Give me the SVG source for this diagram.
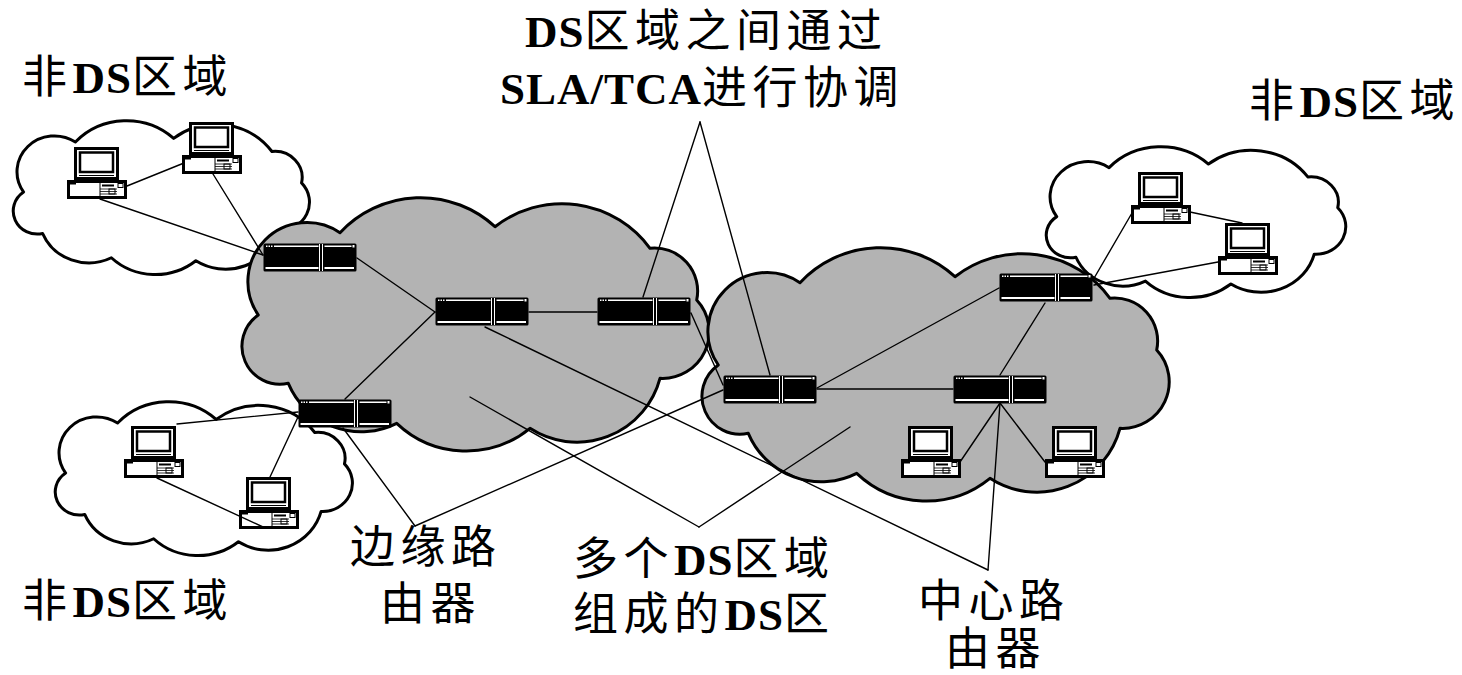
<svg xmlns="http://www.w3.org/2000/svg" xmlns:xlink="http://www.w3.org/1999/xlink" width="1462" height="675" viewBox="0 0 1462 675">
  <style>
    .cloud-gray { fill: #b3b3b3; }
    .cloud-white { fill: #ffffff; }
    .outline { stroke: #000; stroke-width: 3; vector-effect: non-scaling-stroke; stroke-linejoin: round; }
    .wire { stroke: #000; stroke-width: 1.4; fill: none; stroke-linecap: round; }
    .label { font-family: 'Liberation Serif', 'Noto Sans CJK SC', serif; font-size: 45px; letter-spacing: 5.5px; fill: #000; font-weight: normal; }
    .b { font-weight: bold; letter-spacing: 1px; }
  </style>
  <defs>
    <!-- generic cloud outline, 473 x 252 local box -->
    <path id="cloud" class="outline" d="M18.3,117 A59,59 0 0 1 100,34.7 A110,110 0 0 1 255,28.7 A109,109 0 0 1 410,50.3 A43,43 0 0 1 456.7,102 A46.6,46.6 0 0 1 420,180.3 A86,86 0 0 1 290,230.3 A101,101 0 0 1 156.7,225.3 A79,79 0 0 1 48.3,185.3 A38,38 0 0 1 18.3,117 Z"/>
    <!-- rack router, 94 x 29 -->
    <g id="router">
      <rect x="0.5" y="0.5" width="93" height="28" rx="1.5" fill="#000"/>
      <g fill="#fff">
        <rect x="3" y="2.5" width="1.5" height="1.5"/>
        <rect x="5.5" y="2.5" width="1.5" height="1.5"/>
        <rect x="8" y="2.5" width="1.5" height="1.5"/>
        <rect x="11" y="2.5" width="44.5" height="1.5"/>
        <rect x="2.5" y="24" width="53" height="2"/>
        <rect x="56" y="1" width="1" height="27"/>
        <rect x="59" y="1" width="1" height="27"/>
        <rect x="61.5" y="2.5" width="27" height="1.5"/>
        <rect x="89.5" y="2" width="2" height="2.5"/>
        <rect x="61.5" y="24" width="29.5" height="2"/>
      </g>
    </g>
    <!-- desktop computer, 60 x 52 -->
    <g id="pc">
      <rect x="8.5" y="1.5" width="42" height="30" fill="#fff" stroke="#000" stroke-width="3"/>
      <rect x="13" y="5.5" width="33" height="19.5" fill="#fff" stroke="#000" stroke-width="2.5"/>
      <line x1="12" y1="28.5" x2="47" y2="28.5" stroke="#000" stroke-width="1"/>
      <rect x="1.5" y="34.5" width="57" height="16" fill="#fff" stroke="#000" stroke-width="3"/>
      <rect x="3" y="36" width="6" height="1.5" fill="#000"/>
      <line x1="33" y1="36" x2="33" y2="49" stroke="#000" stroke-width="1"/>
      <rect x="35" y="37.5" width="12" height="2" fill="#000"/>
      <line x1="33" y1="42" x2="50" y2="42" stroke="#000" stroke-width="0.8"/>
      <line x1="33" y1="44.5" x2="50" y2="44.5" stroke="#000" stroke-width="0.8"/>
      <line x1="33" y1="47" x2="50" y2="47" stroke="#000" stroke-width="0.8"/>
      <rect x="42" y="42" width="6" height="5" fill="none" stroke="#000" stroke-width="1"/>
      <rect x="51" y="36.5" width="5" height="4" fill="none" stroke="#000" stroke-width="1"/>
    </g>
  </defs>

  <!-- non-DS domains -->
  <g id="cloud-nonds-top-left">
    <use xlink:href="#cloud" class="cloud-white" transform="translate(12,121) scale(0.634,0.607)"/>
  </g>
  <g id="cloud-nonds-bottom-left">
    <use xlink:href="#cloud" class="cloud-white" transform="translate(54,402) scale(0.636,0.607)"/>
  </g>
  <g id="cloud-nonds-right">
    <use xlink:href="#cloud" class="cloud-white" transform="translate(1045,147) scale(0.641,0.595)"/>
  </g>

  <!-- DS domains -->
  <g id="cloud-ds-1">
    <use xlink:href="#cloud" class="cloud-gray" transform="translate(240,198)"/>
  </g>
  <g id="cloud-ds-2">
    <use xlink:href="#cloud" class="cloud-gray" transform="translate(700,248)"/>
  </g>

  <!-- routers -->
  <g id="router-r1"><use xlink:href="#router" x="263" y="243"/></g>
  <g id="router-r2"><use xlink:href="#router" x="435" y="297"/></g>
  <g id="router-r3"><use xlink:href="#router" x="597" y="297"/></g>
  <g id="router-r4"><use xlink:href="#router" x="298" y="399"/></g>
  <g id="router-r5"><use xlink:href="#router" x="723" y="375"/></g>
  <g id="router-r6"><use xlink:href="#router" x="953" y="375"/></g>
  <g id="router-r7"><use xlink:href="#router" x="999" y="273"/></g>

  <!-- hosts -->
  <g id="pc-1"><use xlink:href="#pc" x="67" y="147"/></g>
  <g id="pc-2"><use xlink:href="#pc" x="182" y="122"/></g>
  <g id="pc-3"><use xlink:href="#pc" x="124" y="426"/></g>
  <g id="pc-4"><use xlink:href="#pc" x="239" y="477"/></g>
  <g id="pc-5"><use xlink:href="#pc" x="901" y="426"/></g>
  <g id="pc-6"><use xlink:href="#pc" x="1045" y="426"/></g>
  <g id="pc-7"><use xlink:href="#pc" x="1131" y="172"/></g>
  <g id="pc-8"><use xlink:href="#pc" x="1218" y="223"/></g>

  <!-- links and label pointers -->
  <g id="connectors" class="wire">
    <line x1="127" y1="186" x2="184" y2="163"/>
    <line x1="100" y1="199" x2="263" y2="255"/>
    <line x1="213" y1="174" x2="263" y2="255"/>
    <line x1="357" y1="258" x2="435" y2="312"/>
    <line x1="345" y1="399" x2="435" y2="312"/>
    <line x1="529" y1="312" x2="597" y2="312"/>
    <line x1="691" y1="313" x2="723" y2="385"/>
    <line x1="817" y1="388" x2="999" y2="288"/>
    <line x1="817" y1="389" x2="953" y2="389"/>
    <line x1="1045" y1="303" x2="1000" y2="375"/>
    <line x1="1000" y1="403" x2="960" y2="462"/>
    <line x1="1000" y1="403" x2="1045" y2="462"/>
    <line x1="1093" y1="280" x2="1132" y2="213"/>
    <line x1="1094" y1="285" x2="1218" y2="262"/>
    <line x1="1190" y1="212" x2="1242" y2="223"/>
    <line x1="298" y1="412" x2="177" y2="424"/>
    <line x1="298" y1="417" x2="270" y2="477"/>
    <line x1="157" y1="478" x2="263" y2="527"/>
    <!-- label pointers -->
    <line x1="700" y1="122" x2="643" y2="297"/>
    <line x1="700" y1="122" x2="770" y2="375"/>
    <line x1="699" y1="527" x2="470" y2="397"/>
    <line x1="699" y1="527" x2="850" y2="427"/>
    <line x1="415" y1="526" x2="343" y2="428"/>
    <line x1="415" y1="526" x2="723" y2="390"/>
    <line x1="988" y1="570" x2="485" y2="327"/>
    <line x1="988" y1="570" x2="1000" y2="403"/>
  </g>

  <!-- labels -->
  <g id="labels" class="label">
    <text x="22" y="93">非<tspan class="b">DS</tspan>区域</text>
    <text x="525" y="47"><tspan class="b">DS</tspan>区域之间通过</text>
    <text x="500" y="104"><tspan class="b">SLA/TCA</tspan>进行协调</text>
    <text x="1249" y="117">非<tspan class="b">DS</tspan>区域</text>
    <text x="22" y="617">非<tspan class="b">DS</tspan>区域</text>
    <text x="350" y="563">边缘路</text>
    <text x="380" y="620">由器</text>
    <text x="573" y="575">多个<tspan class="b">DS</tspan>区域</text>
    <text x="573" y="630">组成的<tspan class="b">DS</tspan>区</text>
    <text x="918" y="617">中心路</text>
    <text x="945" y="665">由器</text>
  </g>
</svg>
